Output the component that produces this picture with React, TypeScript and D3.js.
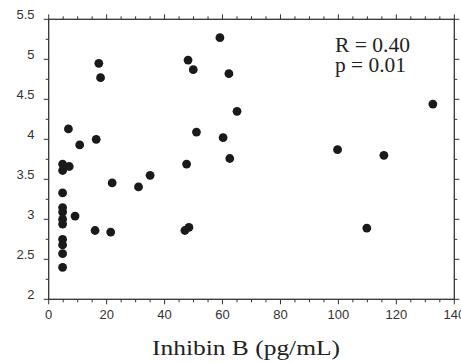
import React from "react";
import * as d3 from "d3";

const inhibinB = [17.3, 17.9, 6.8, 16.4, 10.7, 4.8, 7.1, 4.8, 35.0, 21.9, 31.0, 4.8, 4.8, 4.8, 9.1, 4.8, 4.8, 16.0, 21.4, 4.8, 4.8, 4.8, 4.8, 59.1, 48.1, 49.9, 62.2, 65.0, 51.0, 60.2, 62.5, 47.6, 47.0, 48.4, 132.6, 99.7, 115.7, 109.8];
const yValue = [4.95, 4.77, 4.13, 4.0, 3.93, 3.69, 3.66, 3.61, 3.55, 3.455, 3.405, 3.33, 3.147, 3.09, 3.04, 3.0, 2.94, 2.86, 2.84, 2.75, 2.68, 2.57, 2.4, 5.27, 4.99, 4.87, 4.82, 4.35, 4.09, 4.02, 3.76, 3.69, 2.86, 2.9, 4.44, 3.87, 3.8, 2.89];
const xTicks = [0, 20, 40, 60, 80, 100, 120, 140];
const yTicks = [2, 2.5, 3, 3.5, 4, 4.5, 5, 5.5];
const xTitle = "Inhibin B (pg/mL)";
const annotation = ["R = 0.40", "p = 0.01"];

export default function App() {
  const W = 461, H = 363;
  const left = 48.7, right = 454.3, top = 19.3, bottom = 299.3;
  const x = d3.scaleLinear().domain([0, 140]).range([left, right]);
  const y = d3.scaleLinear().domain([2, 5.5]).range([bottom, top]);
  const xMinor = d3.range(0, 140.01, 5);
  const yMinor = d3.range(2, 5.501, 0.25);
  const axisColor = "#333";
  const major = 5, minor = 3;
  const isMajorX = (v: number) => Math.abs(v % 20) < 1e-6;
  const isMajorY = (v: number) => Math.abs((v * 2) % 1) < 1e-6;
  const serif = "Liberation Serif, Times New Roman, serif";
  return (
    <svg width={W} height={H} style={{ position: "absolute", left: 0, top: 0, background: "#fff" }}>
      <rect x={left} y={top} width={right - left} height={bottom - top} fill="none" stroke={axisColor} strokeWidth={1.3} />
      {xMinor.map((v, i) => {
        const len = isMajorX(v) ? major : minor;
        return (
          <g key={"xt" + i}>
            <line x1={x(v)} x2={x(v)} y1={bottom} y2={bottom + len} stroke={axisColor} strokeWidth={1} />
            <line x1={x(v)} x2={x(v)} y1={top} y2={top - len} stroke={axisColor} strokeWidth={1} />
          </g>
        );
      })}
      {yMinor.map((v, i) => {
        const len = isMajorY(v) ? major : minor;
        return (
          <g key={"yt" + i}>
            <line x1={left} x2={left - len} y1={y(v)} y2={y(v)} stroke={axisColor} strokeWidth={1} />
            <line x1={right} x2={right + len} y1={y(v)} y2={y(v)} stroke={axisColor} strokeWidth={1} />
          </g>
        );
      })}
      {xTicks.map((v) => (
        <text key={"xl" + v} x={x(v)} y={319} textAnchor="middle" fontFamily="Liberation Sans, Arial, sans-serif" fontSize={13} fill="#333">
          {v}
        </text>
      ))}
      {yTicks.map((v) => (
        <text key={"yl" + v} x={34.5} y={y(v) - 0.5} textAnchor="end" fontFamily="Liberation Sans, Arial, sans-serif" fontSize={13} fill="#333">
          {v}
        </text>
      ))}
      {inhibinB.map((v, i) => (
        <circle key={"p" + i} cx={x(v)} cy={y(yValue[i])} r={4.4} fill="#1a1a1a" />
      ))}
      <text x={335} y={51.5} fontFamily={serif} fontSize={20} fill="#222" textLength={75} lengthAdjust="spacingAndGlyphs">{annotation[0]}</text>
      <text x={335} y={72} fontFamily={serif} fontSize={20} fill="#222" textLength={71} lengthAdjust="spacingAndGlyphs">{annotation[1]}</text>
      <text x={152} y={355} fontFamily={serif} fontSize={21} fill="#222" textLength={188} lengthAdjust="spacingAndGlyphs">{xTitle}</text>
    </svg>
  );
}
